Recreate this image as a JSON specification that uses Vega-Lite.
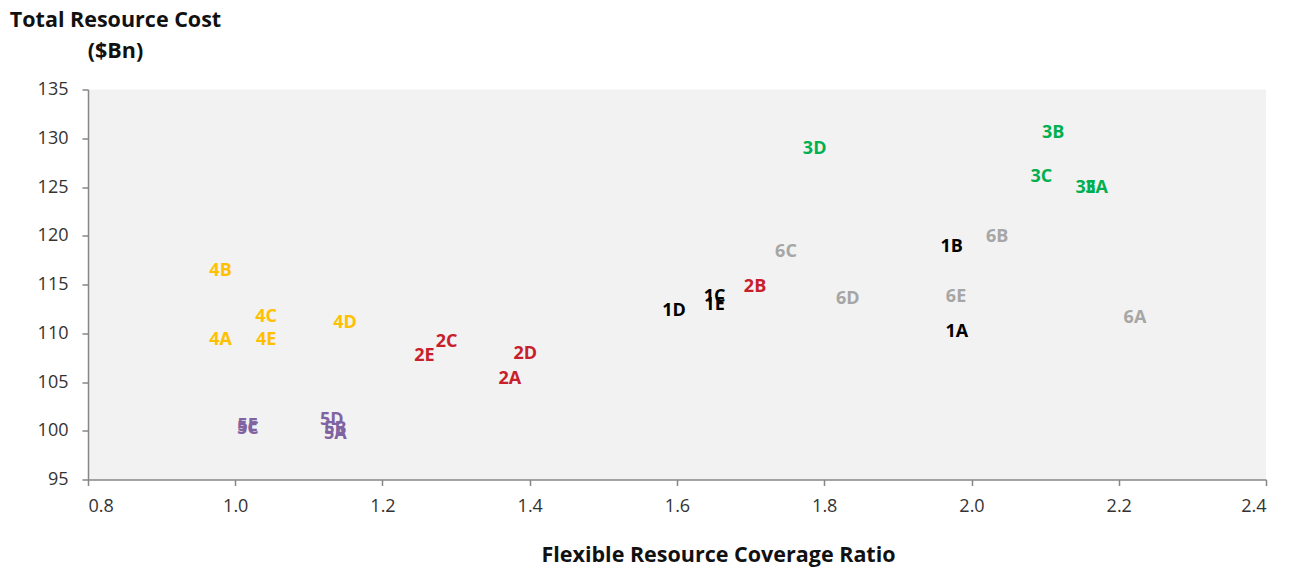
{
  "$schema": "https://vega.github.io/schema/vega-lite/v6.json",
  "width": 1178,
  "height": 390,
  "autosize": "none",
  "padding": {"left": 88, "top": 89.5, "right": 25, "bottom": 90.5},
  "background": "white",
  "config": {
    "view": {"fill": "#f2f2f2", "stroke": null},
    "font": "Open Sans"
  },
  "data": {
    "values": [
      {"label": "1A", "group": "1", "ratio": 1.980, "cost": 110.1},
      {"label": "1B", "group": "1", "ratio": 1.973, "cost": 118.8},
      {"label": "1C", "group": "1", "ratio": 1.651, "cost": 113.75},
      {"label": "1D", "group": "1", "ratio": 1.596, "cost": 112.3},
      {"label": "1E", "group": "1", "ratio": 1.651, "cost": 112.9},
      {"label": "2A", "group": "2", "ratio": 1.373, "cost": 105.3},
      {"label": "2B", "group": "2", "ratio": 1.706, "cost": 114.7},
      {"label": "2C", "group": "2", "ratio": 1.287, "cost": 109.1},
      {"label": "2D", "group": "2", "ratio": 1.394, "cost": 107.9},
      {"label": "2E", "group": "2", "ratio": 1.257, "cost": 107.7},
      {"label": "3A", "group": "3", "ratio": 2.170, "cost": 124.9},
      {"label": "3B", "group": "3", "ratio": 2.111, "cost": 130.5},
      {"label": "3C", "group": "3", "ratio": 2.095, "cost": 126.0},
      {"label": "3D", "group": "3", "ratio": 1.787, "cost": 128.9},
      {"label": "3E", "group": "3", "ratio": 2.155, "cost": 124.9},
      {"label": "4A", "group": "4", "ratio": 0.980, "cost": 109.3},
      {"label": "4B", "group": "4", "ratio": 0.980, "cost": 116.4},
      {"label": "4C", "group": "4", "ratio": 1.042, "cost": 111.7},
      {"label": "4D", "group": "4", "ratio": 1.149, "cost": 111.05},
      {"label": "4E", "group": "4", "ratio": 1.042, "cost": 109.3},
      {"label": "5A", "group": "5", "ratio": 1.136, "cost": 99.7},
      {"label": "5B", "group": "5", "ratio": 1.136, "cost": 100.2},
      {"label": "5C", "group": "5", "ratio": 1.017, "cost": 100.13},
      {"label": "5D", "group": "5", "ratio": 1.131, "cost": 101.1},
      {"label": "5E", "group": "5", "ratio": 1.017, "cost": 100.44},
      {"label": "6A", "group": "6", "ratio": 2.222, "cost": 111.6},
      {"label": "6B", "group": "6", "ratio": 2.035, "cost": 119.9},
      {"label": "6C", "group": "6", "ratio": 1.748, "cost": 118.3},
      {"label": "6D", "group": "6", "ratio": 1.832, "cost": 113.5},
      {"label": "6E", "group": "6", "ratio": 1.979, "cost": 113.75}
    ]
  },
  "mark": {"type": "text", "fontWeight": "bold", "fontSize": 18, "font": "Open Sans", "align": "center", "baseline": "middle"},
  "encoding": {
    "x": {
      "field": "ratio", "type": "quantitative",
      "scale": {"domain": [0.8, 2.4], "nice": false, "zero": false},
      "axis": {
        "values": [0.8, 1.0, 1.2, 1.4, 1.6, 1.8, 2.0, 2.2, 2.4],
        "format": ".1f",
        "grid": false,
        "domainColor": "#868686", "domainWidth": 1.5,
        "tickColor": "#868686", "tickSize": 6, "tickWidth": 1.5,
        "labelFont": "Open Sans", "labelFontSize": 18, "labelColor": "#333333",
        "labelPadding": 12,
        "title": "Flexible Resource Coverage Ratio",
        "titleFont": "Open Sans", "titleFontSize": 21.5, "titleFontWeight": "bold", "titleColor": "#111111",
        "titleAnchor": "start", "titleAlign": "center", "titleBaseline": "alphabetic",
        "titleX": 630, "titleY": 82
      }
    },
    "y": {
      "field": "cost", "type": "quantitative",
      "scale": {"domain": [95, 135], "nice": false, "zero": false},
      "axis": {
        "values": [95, 100, 105, 110, 115, 120, 125, 130, 135],
        "grid": false,
        "domainColor": "#868686", "domainWidth": 1.5,
        "tickColor": "#868686", "tickSize": 6, "tickWidth": 1.5,
        "labelFont": "Open Sans", "labelFontSize": 18, "labelColor": "#333333",
        "labelPadding": 14,
        "title": ["Total Resource Cost", "($Bn)"],
        "titleFont": "Open Sans", "titleFontSize": 21.5, "titleFontWeight": "bold", "titleColor": "#111111",
        "titleAngle": 0, "titleAnchor": "start", "titleAlign": "center", "titleBaseline": "top",
        "titleLineHeight": 31,
        "titleX": 27, "titleY": -80
      }
    },
    "text": {"field": "label"},
    "color": {
      "field": "group", "type": "nominal",
      "scale": {"domain": ["1", "2", "3", "4", "5", "6"], "range": ["#000000", "#c8202a", "#00b050", "#ffc000", "#8064a2", "#a6a6a6"]},
      "legend": null
    }
  }
}
